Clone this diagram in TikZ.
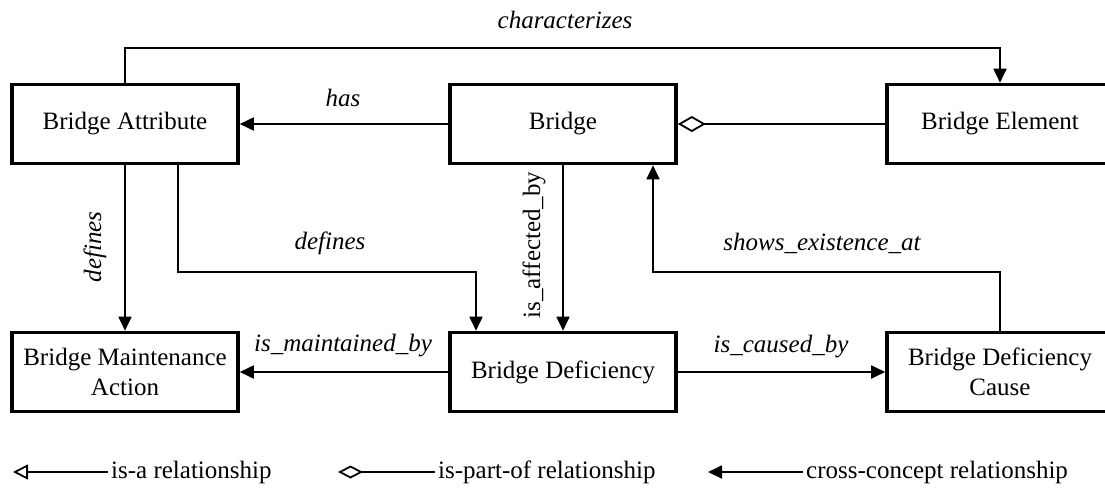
\documentclass[tikz,border=0pt]{standalone}
\usepackage{fontspec}
\setmainfont{Liberation Serif}
\usetikzlibrary{arrows.meta,calc}
\begin{document}
\begin{tikzpicture}[x=1pt,y=-1pt,
  concept/.style={draw=black,line width=3.6pt,minimum width=226pt,minimum height=79pt,
    inner sep=0pt,align=center,font=\fontsize{25}{30}\selectfont},
  conn/.style={line width=1.8pt},
  arr/.style={conn,-{Triangle[length=14pt,width=13pt]}},
  lbl/.style={font=\fontsize{25}{30}\selectfont\itshape,inner sep=0pt},
  legtxt/.style={font=\fontsize{25}{30}\selectfont,inner sep=0pt,anchor=west}]
\useasboundingbox (0,0) rectangle (1105,490);
\clip (0,0) rectangle (1105,490);

% concepts
\node[concept] (BA)  at (125,124)  {Bridge Attribute};
\node[concept] (B)   at (563,124)  {Bridge};
\node[concept] (BE)  at (1000,124) {Bridge Element};
\node[concept] (BMA) at (125,372)  {Bridge Maintenance\\Action};
\node[concept] (BD)  at (563,372)  {Bridge Deficiency};
\node[concept] (BDC) at (1000,372) {Bridge Deficiency\\Cause};

% routing points
\coordinate (ctop) at (0,48);
\coordinate (dbend) at (476,272);
\coordinate (sbend) at (653,272);

% relationships
\draw[arr] (BA.north) -- (BA.north |- ctop) -| (BE.north);
\node[lbl] (lchar) at (565,20) {characterizes};

\draw[arr] (B.west) -- (BA.east);
\node[lbl] (lhas) at (343,98) {has};

\draw[conn,{Diamond[open,length=28pt,width=16pt,line width=1.8pt]}-] (B.east) -- (BE.west);

\draw[arr] (BA.south) -- (BMA.north);
\node[lbl,rotate=90] (ldef1) at (95,247) {defines};

\draw[arr] ([xshift=53pt]BA.south) |- (dbend) -- (dbend |- BD.north);
\node[lbl] (ldef2) at (330,243) {defines};

\draw[arr] (B.south) -- (BD.north);
\node[lbl,font=\fontsize{25}{30}\selectfont,rotate=90] (laff) at (534,245) {is\_affected\_by};

\draw[arr] (BDC.north) |- (sbend) -- (sbend |- B.south);
\node[lbl] (lshow) at (822,243) {shows\_existence\_at};

\draw[arr] (BD.west) -- (BMA.east);
\node[lbl] (lmaint) at (343,346) {is\_maintained\_by};

\draw[arr] (BD.east) -- (BDC.west);
\node[lbl] (lcause) at (781,347) {is\_caused\_by};

% legend
\coordinate (k1a) at (13,472);  \coordinate (k1b) at (108,472);
\coordinate (k2a) at (338,472); \coordinate (k2b) at (435,472);
\coordinate (k3a) at (708,472); \coordinate (k3b) at (803,472);
\draw[conn,{Triangle[open,length=15pt,width=15pt,line width=1.8pt]}-] (k1a) -- (k1b);
\node[legtxt] (t1) at ([xshift=3pt]k1b) {is-a relationship};
\draw[conn,{Diamond[open,length=25pt,width=13pt,line width=1.8pt]}-] (k2a) -- (k2b);
\node[legtxt] (t2) at ([xshift=3pt]k2b) {is-part-of relationship};
\draw[conn,{Triangle[length=14pt,width=13pt]}-] (k3a) -- (k3b);
\node[legtxt] (t3) at ([xshift=3pt]k3b) {cross-concept relationship};
\end{tikzpicture}
\end{document}
